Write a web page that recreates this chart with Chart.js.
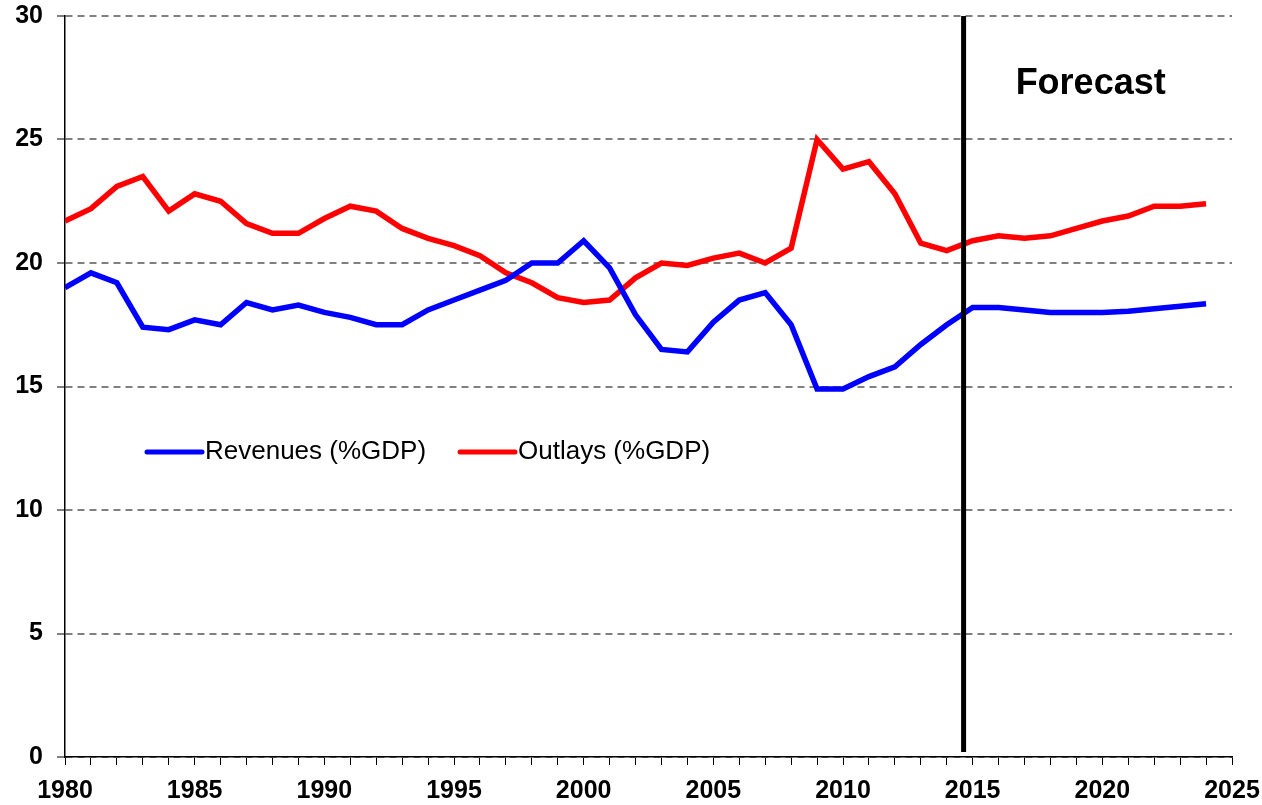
<!DOCTYPE html>
<html>
<head>
  <title>Revenues and Outlays (%GDP)</title>
  <script src="https://cdn.jsdelivr.net/npm/chart.js"></script>
  <style>
    html, body { margin: 0; padding: 0; background: #fff; }
    #wrap { width: 1262px; height: 805px; }
  </style>
</head>
<body>
  <div id="wrap">
    <canvas id="chart" width="1262" height="805"></canvas>
  </div>

  <script>
    // years 1980 - 2024, values in % of GDP
    const years = [];
    for (let y = 1980; y <= 2024; y++) years.push(y);

    const revenues = [
      19.0, 19.6, 19.2, 17.4, 17.3, 17.7, 17.5, 18.4, 18.1, 18.3,
      18.0, 17.8, 17.5, 17.5, 18.1, 18.5, 18.9, 19.3, 20.0, 20.0,
      20.9, 19.8, 17.9, 16.5, 16.4, 17.6, 18.5, 18.8, 17.5, 14.9,
      14.9, 15.4, 15.8, 16.7, 17.5, 18.2, 18.2, 18.1, 18.0, 18.0,
      18.0, 18.05, 18.15, 18.25, 18.35
    ];
    const outlays = [
      21.7, 22.2, 23.1, 23.5, 22.1, 22.8, 22.5, 21.6, 21.2, 21.2,
      21.8, 22.3, 22.1, 21.4, 21.0, 20.7, 20.3, 19.6, 19.2, 18.6,
      18.4, 18.5, 19.4, 20.0, 19.9, 20.2, 20.4, 20.0, 20.6, 25.0,
      23.8, 24.1, 22.8, 20.8, 20.5, 20.9, 21.1, 21.0, 21.1, 21.4,
      21.7, 21.9, 22.3, 22.3, 22.4
    ];
    const seriesLabels = ['Revenues (%GDP)', 'Outlays (%GDP)'];
    const seriesColors = ['#0000ff', '#ff0000'];

    const forecastYear = 2014.65;   // where the forecast marker sits
    const forecastText = 'Forecast';

    const toPoints = vals => vals.map((v, i) => ({ x: years[i], y: v }));

    // vertical forecast line + label
    const forecastPlugin = {
      id: 'forecast',
      afterDatasetsDraw(chart) {
        const { ctx, chartArea, scales } = chart;
        const x = scales.x.getPixelForValue(forecastYear);
        ctx.save();
        ctx.strokeStyle = '#000';
        ctx.lineWidth = 5;
        ctx.beginPath();
        ctx.moveTo(x, chartArea.top);
        ctx.lineTo(x, chartArea.bottom - 5);
        ctx.stroke();

        ctx.fillStyle = '#000';
        ctx.font = 'bold 36px "Liberation Sans", Arial, sans-serif';
        ctx.textAlign = 'center';
        ctx.textBaseline = 'middle';
        ctx.fillText(forecastText, scales.x.getPixelForValue(2019.55), scales.y.getPixelForValue(27.25));
        ctx.restore();
      }
    };

    // legend drawn inside the plot, one row
    const inlineLegend = {
      id: 'inlineLegend',
      afterDraw(chart) {
        const { ctx, chartArea } = chart;
        const y = chart.scales.y.getPixelForValue(12.35);
        const starts = [chartArea.left + 82, chartArea.left + 395];
        ctx.save();
        ctx.font = '26px "Liberation Sans", Arial, sans-serif';
        ctx.textBaseline = 'middle';
        ctx.textAlign = 'left';
        chart.data.datasets.forEach((ds, i) => {
          const x0 = starts[i];
          ctx.strokeStyle = ds.borderColor;
          ctx.lineWidth = 5;
          ctx.lineCap = 'round';
          ctx.beginPath();
          ctx.moveTo(x0, y);
          ctx.lineTo(x0 + 55, y);
          ctx.stroke();
          ctx.fillStyle = '#000';
          ctx.fillText(ds.label, x0 + 58, y);
        });
        ctx.restore();
      }
    };

    new Chart(document.getElementById('chart'), {
      type: 'line',
      data: {
        datasets: [
          {
            label: seriesLabels[0],
            data: toPoints(revenues),
            borderColor: seriesColors[0],
            backgroundColor: seriesColors[0],
            borderWidth: 5.5,
            pointRadius: 0,
            tension: 0,
            fill: false
          },
          {
            label: seriesLabels[1],
            data: toPoints(outlays),
            borderColor: seriesColors[1],
            backgroundColor: seriesColors[1],
            borderWidth: 5.5,
            pointRadius: 0,
            tension: 0,
            fill: false
          }
        ]
      },
      options: {
        responsive: false,
        animation: false,
        layout: { padding: { top: 16, right: 30, left: 0, bottom: 0 } },
        plugins: {
          legend: { display: false },
          tooltip: { enabled: false }
        },
        scales: {
          x: {
            type: 'linear',
            min: 1980,
            max: 2025,
            afterFit(scale) {
              scale.height = 48;
              scale.paddingLeft = 0;
              scale.paddingRight = 0;
            },
            border: { display: true, color: '#000', width: 1.5 },
            grid: {
              drawOnChartArea: false,
              drawTicks: true,
              tickLength: 8,
              tickColor: '#000',
              tickWidth: 1
            },
            ticks: {
              stepSize: 1,
              autoSkip: false,
              maxRotation: 0,
              padding: 11,
              color: '#000',
              font: { family: '"Liberation Sans", Arial, sans-serif', size: 25, weight: 'bold' },
              callback: v => (v % 5 === 0 ? String(v) : '')
            }
          },
          y: {
            min: 0,
            max: 30,
            afterFit(scale) {
              scale.width = 65;
              scale.paddingTop = 0;
              scale.paddingBottom = 0;
            },
            border: { display: true, color: '#000', width: 1.5, dash: [7, 5] },
            grid: {
              color: '#808080',
              lineWidth: 2,
              tickLength: 8,
              tickColor: '#000',
              tickWidth: 1,
              tickBorderDash: []
            },
            ticks: {
              stepSize: 5,
              padding: 14,
              color: '#000',
              font: { family: '"Liberation Sans", Arial, sans-serif', size: 25, weight: 'bold' }
            }
          }
        }
      },
      plugins: [forecastPlugin, inlineLegend]
    });
  </script>
</body>
</html>
